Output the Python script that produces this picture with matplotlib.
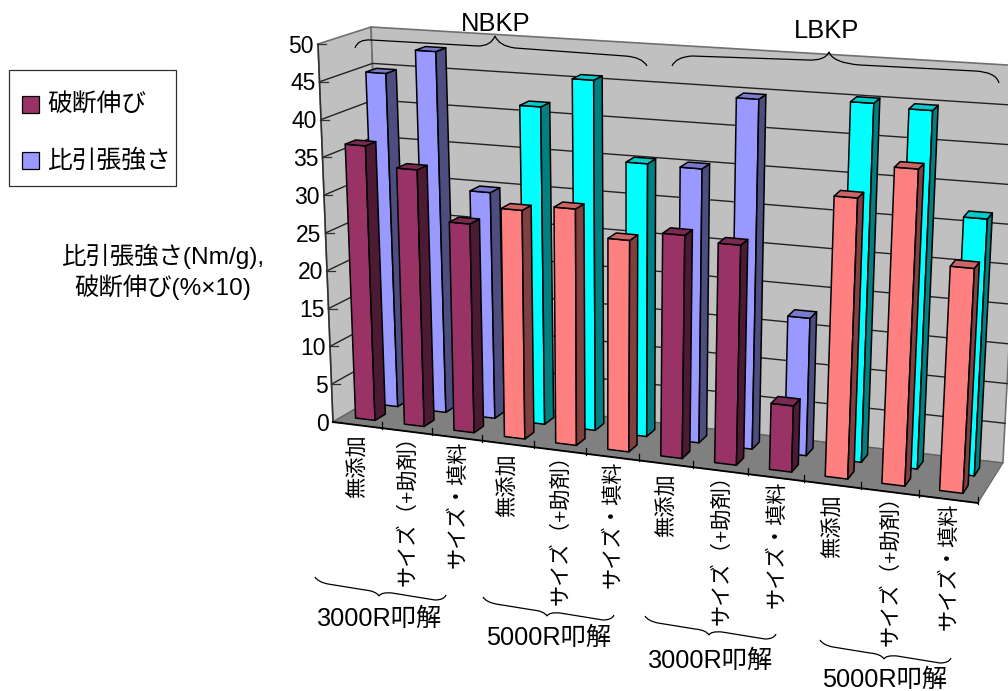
import matplotlib
matplotlib.use("Agg")
import matplotlib.pyplot as plt
from matplotlib.patches import Polygon, PathPatch, Rectangle
from matplotlib.path import Path

plt.rcParams['font.family'] = ['Liberation Sans', 'Noto Sans CJK JP']

# Data
categories = ['無添加', 'サイズ（+助剤）', 'サイズ・填料'] * 4
elongation = [36.4, 33.8, 27.3, 29.7, 30.5, 27.1, 28.4, 27.8, 8.3, 35.0, 39.2, 27.6]
strength = [44.9, 48.3, 30.0, 41.9, 45.9, 35.5, 35.4, 44.9, 17.5, 45.4, 45.0, 32.0]
y_ticks = [0, 5, 10, 15, 20, 25, 30, 35, 40, 45, 50]
legend_labels = ['破断伸び', '比引張強さ']
beating_labels = ['3000R叩解', '5000R叩解', '3000R叩解', '5000R叩解']

# (front, side, top) shades per group of three bars
front_row_nbkp = ('#993366', '#4d1a33', '#7a2952')
front_row_lbkp = ('#FF8080', '#804040', '#CC6666')
back_row_plain = ('#9999FF', '#4d4d80', '#7a7acc')
back_row_cyan = ('#00FFFF', '#008080', '#00CCCC')
front_colors = ([front_row_nbkp] * 3 + [front_row_lbkp] * 3) * 2
back_colors = ([back_row_plain] * 3 + [back_row_cyan] * 3) * 2

WALL = '#C0C0C0'
FLOOR = '#808080'

# Corners of the chart box on the page: floor/ceiling, near/far, left/right
NEAR_L_0, NEAR_L_50 = (333, 422), (318, 44)
FAR_L_0, FAR_L_50 = (386, 391), (371, 27)
NEAR_R_0, NEAR_R_50 = (978, 503), (1000, 92)
FAR_R_0, FAR_R_50 = (1003, 463), (1024, 66)
N_CAT = 12
VMAX = 50.0
BAR_U = (0.27, 0.67)
FRONT_D = (0.18, 0.38)
BACK_D = (0.62, 0.82)


def lerp(a, b, t):
    return (a[0] + (b[0] - a[0]) * t, a[1] + (b[1] - a[1]) * t)


def project(u, d, v):
    """Map category position u, depth d and value v to page coordinates."""
    s = 48.6 * u / (1 - 0.00797 * u) / 645.0
    t = v / VMAX
    near = lerp(lerp(NEAR_L_0, NEAR_R_0, s), lerp(NEAR_L_50, NEAR_R_50, s), t)
    far = lerp(lerp(FAR_L_0, FAR_R_0, s), lerp(FAR_L_50, FAR_R_50, s), t)
    return lerp(near, far, d)


fig = plt.figure(figsize=(10.08, 6.91), dpi=100, facecolor='white')
ax = fig.add_axes([0, 0, 1, 1])
ax.set_xlim(0, 1008)
ax.set_ylim(691, 0)
ax.axis('off')


def face(points, color, edge='black', lw=1.1, z=1):
    ax.add_patch(Polygon(points, closed=True, facecolor=color, edgecolor=edge,
                         linewidth=lw, joinstyle='round', zorder=z))


# Walls and floor
face([project(0, 0, 0), project(0, 1, 0), project(0, 1, 50), project(0, 0, 50)],
     WALL, edge='#707070', lw=1.2)
face([project(0, 1, 0), project(N_CAT, 1, 0), project(N_CAT, 1, 50), project(0, 1, 50)],
     WALL, edge='#707070', lw=1.2)
face([project(0, 0, 0), project(N_CAT, 0, 0), project(N_CAT, 1, 0), project(0, 1, 0)],
     FLOOR, edge='#606060', lw=0.8)

# Gridlines, axis ticks and labels
for v in y_ticks:
    a, b, c = project(0, 0, v), project(0, 1, v), project(N_CAT, 1, v)
    if 0 < v < 50:
        ax.plot([a[0], b[0], c[0]], [a[1], b[1], c[1]], color='#222222', lw=1.0, zorder=2)
    ax.plot([a[0] - 1, a[0] + 8], [a[1], a[1]], color='#303030', lw=0.9, zorder=2)
    ax.text(a[0] - 4, a[1] + 2, str(v), ha='right', va='center', fontsize=16.5, color='black')

ax.plot(*zip(project(0, 0, 0), project(0, 0, 50)), color='#303030', lw=1.1, zorder=2)
ax.plot(*zip(project(0, 0, 0), project(N_CAT, 0, 0)), color='black', lw=1.3, zorder=2)
for i in range(1, N_CAT + 1):
    p = project(i, 0, 0)
    ax.plot([p[0], p[0]], [p[1] - 6, p[1] + 1], color='black', lw=0.9, zorder=2)


def draw_bar(i, value, depth, colors, z):
    u0, u1 = i + BAR_U[0], i + BAR_U[1]
    d0, d1 = depth
    front, side, top = colors
    face([project(u0, d0, 0), project(u1, d0, 0), project(u1, d0, value), project(u0, d0, value)],
         front, z=z)
    face([project(u1, d0, 0), project(u1, d1, 0), project(u1, d1, value), project(u1, d0, value)],
         side, z=z)
    face([project(u0, d0, value), project(u1, d0, value), project(u1, d1, value), project(u0, d1, value)],
         top, z=z)


# Far row first, then near row, left to right
for i, value in enumerate(strength):
    draw_bar(i, value, BACK_D, back_colors[i], 3)
for i, value in enumerate(elongation):
    draw_bar(i, value, FRONT_D, front_colors[i], 4)

# Category labels hang below the floor edge, centred by label length
label_drop = {'無添加': 41, 'サイズ（+助剤）': 74, 'サイズ・填料': 67}
for i, label in enumerate(categories):
    p = project(i + 0.5, 0, 0)
    ax.text(p[0], p[1] + label_drop[label], label, rotation=90, ha='center', va='center',
            fontsize=15.3, color='black')


def brace(points, dx=0, dy=0):
    codes = [Path.MOVETO, Path.CURVE3, Path.CURVE3, Path.LINETO, Path.CURVE3, Path.CURVE3,
             Path.CURVE3, Path.CURVE3, Path.LINETO, Path.CURVE3, Path.CURVE3]
    verts = [(x + dx, y + dy) for x, y in points]
    ax.add_patch(PathPatch(Path(verts, codes), facecolor='none', edgecolor='black',
                           linewidth=0.9, zorder=6))


# Pulp group braces above the bars
brace([(355, 48), (358, 39), (371, 40), (478, 46), (491, 46), (495, 36),
       (499, 46), (515, 48), (625, 56), (642, 57), (647, 66)])
brace([(672, 66), (676, 57), (692, 56), (808, 60), (825, 61), (829, 52),
       (833, 63), (860, 65), (975, 71), (996, 72), (999, 83)])
ax.text(496, 24, 'NBKP', ha='center', va='center', fontsize=18.4)
ax.text(827, 31, 'LBKP', ha='center', va='center', fontsize=18.4)

# Beating braces below the category labels
lower_brace = [(315, 577), (318, 582), (328, 584), (365, 590), (376, 591), (379, 596),
               (381, 592), (392, 593), (435, 600), (444, 600), (446, 595)]
brace_shifts = [(0, 0), (168, 20), (330, 39), (505, 63)]
text_centres = [(380, 619), (549, 638), (711, 661), (885, 680)]
for shift, centre, label in zip(brace_shifts, text_centres, beating_labels):
    brace(lower_brace, *shift)
    ax.text(*centre, label, ha='center', va='center', fontsize=18.2)

# Legend
ax.add_patch(Rectangle((9, 70), 167, 116, facecolor='white', edgecolor='#303030', lw=0.9, zorder=5))
ax.add_patch(Rectangle((22, 96), 17, 17, facecolor=front_row_nbkp[0], edgecolor='black', lw=0.9, zorder=6))
ax.add_patch(Rectangle((22, 152), 17, 17, facecolor=back_row_plain[0], edgecolor='black', lw=0.9, zorder=6))
ax.text(47, 104, legend_labels[0], ha='left', va='center', fontsize=17.8, zorder=6)
ax.text(47, 161, legend_labels[1], ha='left', va='center', fontsize=17.8, zorder=6)

# Value axis title
ax.text(163, 256, '比引張強さ(Nm/g),', ha='center', va='center', fontsize=17.6)
ax.text(163, 287, '破断伸び(%×10)', ha='center', va='center', fontsize=17.6)

fig.savefig('out.png', dpi=100)
